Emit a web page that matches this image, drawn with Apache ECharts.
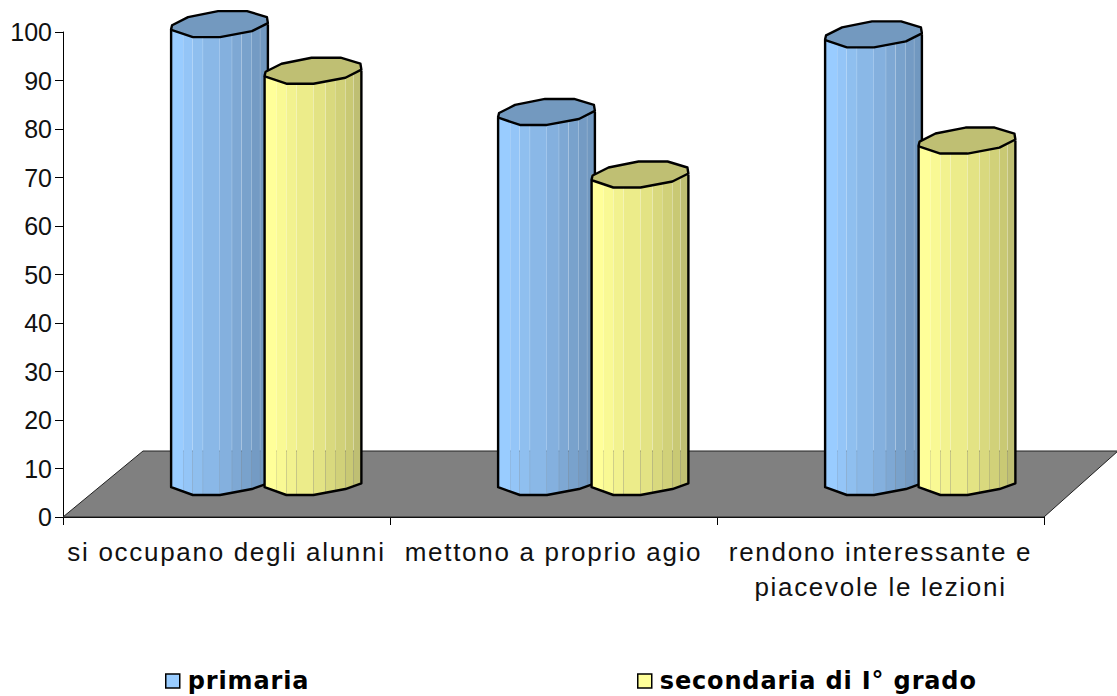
<!DOCTYPE html>
<html><head><meta charset="utf-8">
<style>html,body{margin:0;padding:0;background:#fff}#c{width:1117px;height:696px}
#c svg text[style*="26px"]{letter-spacing:1.7px}
#c svg text[style*="bold"]{letter-spacing:0.85px}
</style>
<script src="https://cdn.jsdelivr.net/npm/echarts@6/dist/echarts.min.js"></script>
</head><body><div id="c"></div>
<script>
var categories = ['si occupano degli alunni', 'mettono a proprio agio', 'rendono interessante e\npiacevole le lezioni'];
var primaria = [94.4, 76.3, 92.3];
var secondaria = [84.8, 63.4, 70.4];
var yTicks = {min: 0, max: 100, interval: 10};

// Shape of the cylinder, relative to its centre, fractions of half width / half depth
var topShape = [[-1,0.38],[-0.98,0.08],[-0.65,-0.54],[-0.03,-1],[0.57,-1],[0.98,-0.54],[1,-0.08],[0.67,0.54],[0.01,1],[-0.55,1],[-0.98,0.46]];
var front = [[-1,0.4],[-0.55,1],[0.01,1],[0.67,0.54],[1,0.1]];
var seams = [-1,-0.75,-0.55,-0.34,0.01,0.26,0.46,0.67,0.84,1];
function frontAt(u){
  for (var i=0;i<front.length-1;i++){
    if (u<=front[i+1][0]){
      var t=(u-front[i][0])/(front[i+1][0]-front[i][0]);
      return front[i][1]+t*(front[i+1][1]-front[i][1]);
    }
  }
  return front[front.length-1][1];
}
var blueStrips = ['#99CCFF','#94C5F7','#8FBFEF','#8AB8E7','#84B0DE','#7EA8D4','#79A2CC','#749BC4','#7198C0'];
var yellowStrips = ['#FFFF99','#F9F994','#F2F28F','#ECEC8A','#E3E384','#D9D97E','#D1D179','#C9C974','#BFBF73'];

function cylinder(offsetFrac, strips, topColor){
  return function(params, api){
    var band = api.size([1,0])[0];
    var pt = api.coord([api.value(0), api.value(1)]);
    var base = api.coord([api.value(0), 0]);
    var cx = pt[0] + band*offsetFrac, hw = band*0.148, hd = 13, lift = 35;
    var ty = pt[1]-lift, by = base[1]-lift;
    var ch = [];
    for (var i=0;i<strips.length;i++){
      var u0=seams[i], u1=seams[i+1], gap = (i<strips.length-1 && i>0)?0.2:0;
      var x0=cx+u0*hw, x1=cx+u1*hw-gap;
      var pts=[[x0,ty],[x1,ty],[x1,by+hd*frontAt(u1)],[x0,by+hd*frontAt(u0)]];
      ch.push({type:'polygon',shape:{points:pts},style:{fill:strips[i],stroke:null}});
    }
    var outline=[[cx-hw,ty+hd*0.4]];
    front.forEach(function(p){outline.push([cx+p[0]*hw,by+hd*p[1]]);});
    outline.push([cx+hw,ty]);
    ch.push({type:'polyline',shape:{points:outline},style:{fill:null,stroke:'#000',lineWidth:2.4,lineJoin:'round'}});
    ch.push({type:'polygon',shape:{points:topShape.map(function(p){return [cx+p[0]*hw,ty+p[1]*hd];})},
      style:{fill:topColor,stroke:'#000',lineWidth:2.4,lineJoin:'round'}});
    return {type:'group',children:ch};
  };
}
var chart = echarts.init(document.getElementById('c'),null,{renderer:'svg'});
chart.setOption({
  animation:false,
  backgroundColor:'#fff',
  grid:{left:63,right:73,top:32,bottom:179,containLabel:false},
  xAxis:{type:'category',data:categories,boundaryGap:true,
    axisLine:{lineStyle:{color:'#000',width:1}},
    axisTick:{show:true,length:8,alignWithLabel:false,lineStyle:{color:'#000'}},
    splitLine:{show:false},
    axisLabel:{interval:0,color:'#111',fontFamily:'Liberation Sans',fontSize:26,lineHeight:35,margin:17}},
  yAxis:{type:'value',min:yTicks.min,max:yTicks.max,interval:yTicks.interval,
    axisLine:{show:true,lineStyle:{color:'#000',width:1}},
    axisTick:{show:true,length:8,lineStyle:{color:'#000'}},
    splitLine:{show:false},
    axisLabel:{color:'#111',fontFamily:'Liberation Sans',fontSize:25,margin:11}},
  legend:[
    {left:160,top:664,data:['primaria'],itemWidth:14,itemHeight:14,icon:'rect',
     textStyle:{fontFamily:'DejaVu Sans',fontWeight:'bold',fontSize:24,color:'#000',padding:[0,0,0,3]},
     itemStyle:{borderColor:'#000',borderWidth:1.5}},
    {left:632,top:664,data:['secondaria di I° grado'],itemWidth:14,itemHeight:14,icon:'rect',
     textStyle:{fontFamily:'DejaVu Sans',fontWeight:'bold',fontSize:24,color:'#000',padding:[0,0,0,3]},
     itemStyle:{borderColor:'#000',borderWidth:1.5}}
  ],
  series:[
    {type:'custom',name:'piano',silent:true,z:1,data:[[0,0]],encode:{x:0,y:1},
     renderItem:function(params,api){
       var cs=params.coordSys, fy=cs.y+cs.height, r=cs.x+cs.width;
       return {type:'polygon',shape:{points:[[cs.x,fy],[cs.x+80,fy-66],[r+74,fy-66],[r,fy]]},
         style:{fill:'#808080',stroke:'#222',lineWidth:1}};
     }},
    {type:'custom',name:'primaria',z:2,color:'#99CCFF',itemStyle:{color:'#99CCFF'},encode:{x:0,y:1},
     data:primaria.map(function(v,i){return [i,v];}),
     renderItem:cylinder(-0.0214,blueStrips,'#7399BF')},
    {type:'custom',name:'secondaria di I° grado',z:3,color:'#FFFF99',itemStyle:{color:'#FFFF99'},encode:{x:0,y:1},
     data:secondaria.map(function(v,i){return [i,v];}),
     renderItem:cylinder(0.2645,yellowStrips,'#BFBF73')}
  ]
});
</script></body></html>
